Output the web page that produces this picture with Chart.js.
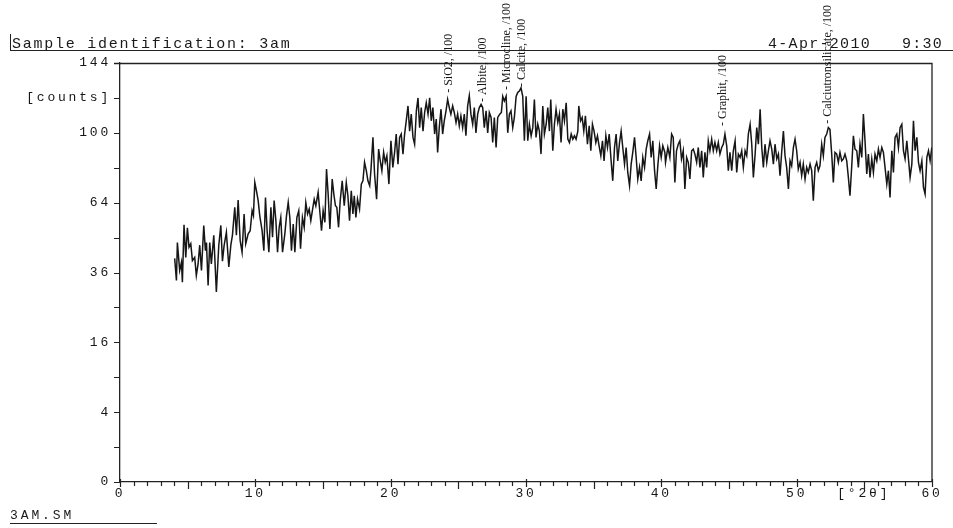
<!DOCTYPE html>
<html>
<head>
<meta charset="utf-8">
<title>3AM.SM</title>
<script src="https://cdn.jsdelivr.net/npm/chart.js@4.4.1/dist/chart.umd.min.js"></script>
<style>
  html, body { margin: 0; padding: 0; background: #ffffff; }
  #wrap { position: relative; width: 953px; height: 528px; overflow: hidden; background: #ffffff; }
  #xrd { position: absolute; left: 0; top: 0; }
  .plotter { position: absolute; font-family: "Liberation Mono", "DejaVu Sans Mono", monospace; color: #1a1a1a; white-space: pre; line-height: 1; }
  #headRule { position: absolute; left: 10px; top: 34px; width: 943px; height: 16px; border-left: 1.3px solid #222; border-bottom: 1.3px solid #222; }
  #sampleId { left: 12px; top: 37px; font-size: 15px; letter-spacing: 1.75px; }
  #stamp { left: 768px; top: 37px; font-size: 15px; letter-spacing: 1.3px; }
  #fileName { left: 10px; top: 509px; font-size: 13px; letter-spacing: 2.9px; width: 147px; border-bottom: 1.2px solid #222; padding-bottom: 1px; }
</style>
</head>
<body>
<div id="wrap">
  <canvas id="xrd" width="953" height="528"></canvas>
  <div id="headRule"></div>
  <div class="plotter" id="sampleId">Sample identification: 3am</div>
  <div class="plotter" id="stamp">4-Apr-2010   9:30</div>
  <div class="plotter" id="fileName">3AM.SM</div>
</div>
<script>
// Diffraction scan: position in degrees 2-theta and intensity in counts
const angle = [
  4.04, 4.17, 4.24, 4.41, 4.54, 4.61, 4.73, 4.86, 4.98, 5.10, 5.23, 5.35, 5.52, 5.64, 5.77, 5.89,
  6.02, 6.19, 6.31, 6.39, 6.51, 6.63, 6.75, 6.93, 7.12, 7.30, 7.45, 7.57, 7.69, 7.86, 8.04, 8.19,
  8.31, 8.48, 8.60, 8.73, 8.88, 9.02, 9.17, 9.29, 9.47, 9.62, 9.76, 9.86, 9.96, 10.08, 10.21, 10.33,
  10.50, 10.63, 10.75, 10.87, 11.00, 11.15, 11.27, 11.39, 11.52, 11.64, 11.76, 11.88, 12.01, 12.18, 12.30, 12.43,
  12.55, 12.67, 12.80, 12.92, 13.07, 13.21, 13.34, 13.48, 13.61, 13.73, 13.86, 13.98, 14.10, 14.23, 14.35, 14.47,
  14.64, 14.77, 14.89, 15.01, 15.14, 15.26, 15.38, 15.51, 15.68, 15.80, 15.92, 16.02, 16.15, 16.27, 16.42, 16.57,
  16.72, 16.84, 16.96, 17.09, 17.21, 17.31, 17.43, 17.55, 17.70, 17.83, 17.95, 18.07, 18.20, 18.32, 18.45, 18.54,
  18.69, 18.81, 18.96, 19.11, 19.23, 19.35, 19.48, 19.60, 19.72, 19.87, 20.02, 20.16, 20.29, 20.41, 20.54, 20.66,
  20.78, 20.91, 21.03, 21.15, 21.28, 21.40, 21.52, 21.65, 21.77, 21.90, 22.02, 22.14, 22.26, 22.39, 22.51, 22.63,
  22.76, 22.88, 23.00, 23.12, 23.25, 23.37, 23.47, 23.59, 23.72, 23.84, 23.96, 24.09, 24.21, 24.33, 24.45, 24.58,
  24.70, 24.83, 24.95, 25.07, 25.19, 25.32, 25.44, 25.56, 25.69, 25.81, 25.93, 26.06, 26.18, 26.30, 26.43, 26.55,
  26.68, 26.80, 26.92, 27.05, 27.17, 27.29, 27.42, 27.54, 27.66, 27.79, 27.91, 28.06, 28.18, 28.28, 28.40, 28.53,
  28.65, 28.77, 28.89, 29.02, 29.14, 29.27, 29.39, 29.51, 29.63, 29.76, 29.88, 30.01, 30.13, 30.25, 30.38, 30.50,
  30.62, 30.74, 30.87, 30.99, 31.11, 31.24, 31.36, 31.49, 31.61, 31.73, 31.83, 31.98, 32.10, 32.22, 32.35, 32.47,
  32.59, 32.72, 32.84, 32.97, 33.09, 33.21, 33.34, 33.46, 33.58, 33.70, 33.83, 33.90, 34.03, 34.15, 34.27, 34.39,
  34.54, 34.67, 34.79, 34.91, 35.03, 35.16, 35.28, 35.40, 35.53, 35.65, 35.77, 35.90, 36.02, 36.15, 36.27, 36.41,
  36.54, 36.66, 36.78, 36.91, 37.03, 37.15, 37.28, 37.40, 37.52, 37.65, 37.77, 37.89, 38.02, 38.14, 38.26, 38.39,
  38.51, 38.63, 38.76, 38.88, 39.00, 39.13, 39.25, 39.37, 39.50, 39.62, 39.74, 39.87, 39.99, 40.11, 40.26, 40.31,
  40.48, 40.63, 40.76, 40.88, 41.00, 41.12, 41.25, 41.37, 41.49, 41.62, 41.74, 41.87, 41.99, 42.11, 42.24, 42.36,
  42.48, 42.61, 42.73, 42.85, 42.98, 43.10, 43.22, 43.35, 43.47, 43.59, 43.72, 43.84, 43.96, 44.09, 44.21, 44.33,
  44.46, 44.58, 44.70, 44.83, 44.95, 45.07, 45.20, 45.32, 45.45, 45.57, 45.69, 45.82, 45.94, 46.06, 46.19, 46.31,
  46.43, 46.56, 46.68, 46.80, 46.93, 47.05, 47.17, 47.30, 47.42, 47.54, 47.66, 47.79, 47.91, 48.03, 48.16, 48.28,
  48.40, 48.53, 48.65, 48.77, 48.90, 49.02, 49.14, 49.26, 49.39, 49.51, 49.63, 49.76, 49.88, 50.00, 50.12, 50.25,
  50.37, 50.49, 50.62, 50.74, 50.86, 50.99, 51.11, 51.23, 51.36, 51.48, 51.60, 51.72, 51.85, 51.97, 52.09, 52.22,
  52.34, 52.46, 52.59, 52.71, 52.83, 52.96, 53.08, 53.20, 53.33, 53.45, 53.57, 53.70, 53.82, 53.94, 54.07, 54.19,
  54.31, 54.44, 54.56, 54.68, 54.81, 54.93, 55.05, 55.18, 55.30, 55.42, 55.55, 55.67, 55.79, 55.92, 56.04, 56.16,
  56.29, 56.41, 56.53, 56.66, 56.78, 56.90, 57.03, 57.15, 57.27, 57.40, 57.52, 57.64, 57.77, 57.89, 58.01, 58.14,
  58.26, 58.38, 58.51, 58.63, 58.75, 58.88, 59.00, 59.12, 59.25, 59.37, 59.49, 59.62, 59.74, 59.86, 59.99
];

const counts = [
  41, 33.3, 47, 36.7, 39.6, 32.7, 54.3, 41.4, 53, 45.2, 46.6, 40.2, 41.4, 35, 39, 46,
  36.7, 53.9, 43.9, 47, 31.7, 47, 39, 49.9, 29.6, 46, 54, 40, 45.7, 51.1, 37.9, 46,
  50, 61.9, 50, 65.2, 47.8, 43.3, 58.9, 46.6, 50.5, 51.8, 60.4, 58.2, 73.6, 69.6, 64.9, 58,
  51.8, 43.9, 66.4, 51.8, 43.3, 61.9, 49.1, 65, 56, 43.3, 53.2, 57.4, 43.3, 50.5, 58, 64.1,
  57.4, 43.9, 54.6, 43.3, 57.4, 60.4, 44.6, 57.4, 53.2, 64, 58.9, 61.1, 56, 61, 65.6, 62.6,
  68.8, 59.7, 51.8, 60.4, 55.3, 80.3, 68, 52.5, 75.3, 68, 62.6, 61.9, 53.2, 64.9, 74.4, 62.6,
  73.6, 67.2, 56, 69.6, 58.9, 67.2, 57.4, 65.6, 61.1, 72.8, 74.4, 83.8, 79.5, 74.4, 72, 79.5,
  97.4, 77.8, 65.6, 90.9, 84.6, 79.5, 89.1, 83.8, 87.3, 72.8, 95.5, 81.2, 89.1, 99.3, 82.9, 97.4,
  99.3, 88.2, 99.3, 107, 116, 101, 111, 97.4, 93.6, 113, 121, 103, 115, 101, 112, 118,
  111, 121, 107, 115, 99.3, 108, 89.1, 103, 114, 99.3, 107, 113, 120, 115, 111, 116,
  112, 106, 111, 104, 110, 103, 111, 98.3, 116, 122.4, 111, 105, 115, 100, 111, 115,
  117, 115, 103, 113, 100, 112, 109, 94.5, 109, 91.8, 109, 111, 112, 122, 119, 122,
  100, 111, 113, 103, 109, 122, 124.4, 125.4, 127.5, 122, 95.5, 122, 95.5, 105, 98.3, 103,
  120, 97.4, 105, 101, 88.2, 116, 99.3, 105, 115, 101, 120, 90, 105, 114, 106, 111,
  94.5, 114, 107, 118, 96.4, 94.5, 99.3, 96.4, 98.3, 96.4, 101, 116, 107, 109, 101, 110,
  93.6, 104, 90, 105, 101, 94.5, 98.3, 92.7, 87.3, 95.5, 84.6, 98.3, 91.8, 99.3, 86.4, 74.4,
  91.8, 99.3, 84.6, 94.5, 101, 91.8, 82.9, 91.8, 78.6, 72, 82.9, 89.1, 97.4, 86.4, 75.3, 81.2,
  74.4, 86.4, 81.2, 90.9, 95.5, 99.3, 86.4, 95.5, 79.5, 70.4, 82, 92.7, 86.4, 92.7, 89.1, 83.8,
  91.8, 86.4, 99.3, 97.4, 73.6, 90, 93.6, 95.5, 85.6, 90, 70.4, 86.4, 83.8, 75.3, 90, 90.9,
  88.2, 83.8, 91.8, 81.2, 90, 76.1, 89.1, 81.2, 95.5, 90, 96.4, 90, 94.5, 90, 94.5, 88.2,
  91.8, 93.6, 99.3, 92.7, 79.5, 89.1, 79.5, 90, 95.5, 78.6, 88.2, 86.4, 90, 81.2, 90, 87.3,
  99.3, 105, 93.6, 76.1, 88.2, 103, 93.6, 114, 91.8, 81.2, 93.6, 83.8, 90, 95.5, 90.9, 82.9,
  93.6, 85.6, 88.2, 77, 90, 101, 87.3, 81.2, 70.4, 84.6, 82, 91.8, 96.4, 90, 80.3, 83.8,
  77, 82.9, 75.3, 81.2, 78.6, 82.9, 79.5, 64.9, 81.2, 83.8, 79.5, 82, 93.6, 87.3, 97.4, 99.3,
  103, 102, 88.2, 73.6, 89.1, 88.2, 83.8, 89.1, 84.6, 85.6, 88.2, 84.6, 76.1, 67.2, 82, 98.3,
  90.9, 90, 81.2, 93.6, 86.4, 111, 95.5, 77.8, 88.2, 76.1, 85.6, 78.6, 88.2, 84.6, 90.9, 86.4,
  91.8, 89.1, 81.2, 72.8, 79.5, 66.4, 90, 78.6, 97.4, 99.3, 91.8, 103, 105, 90, 85.6, 95.5,
  85.6, 76.1, 82.9, 107, 90, 97.4, 83.8, 79.5, 84.6, 71.2, 68, 86.4, 90, 84.6, 91.8
];

// Phase identification markers: reference position (deg 2-theta) and label height (counts)
const phaseNames  = ['SiO2', 'Albite', 'Microcline', 'Calcite', 'Graphit', 'Calciutronsilicate'];
const phaseAngle  = [24.33, 26.78, 28.55, 29.66, 44.53, 52.29];
const phaseHeight = [124.2, 118.5, 126.1, 128.0, 104.0, 105.2];
const phaseScale  = '/100';

// Axis ticks
const xTickValues = [0, 10, 20, 30, 40, 50, 60];
const xMinorStep = 1;
const yTickValues = [0, 1, 4, 9, 16, 25, 36, 49, 64, 81, 100, 121, 144];
const yTickLabels = ['0', '', '4', '', '16', '', '36', '', '64', '', '100', '[counts]', '144'];
const xUnitLabel = '[°2θ]';
const xUnitAt = 53.0;

// Square-root intensity axis
class SqrtScale extends Chart.LinearScale {
  static id = 'sqrt';
  static defaults = {};
  buildTicks() {
    return yTickValues.map(v => ({ value: v }));
  }
  configure() {
    super.configure();
    this._sMin = Math.sqrt(Math.max(this.min, 0));
    this._sMax = Math.sqrt(Math.max(this.max, 0));
  }
  getPixelForValue(value) {
    const s = Math.sqrt(Math.max(value, 0));
    return this.getPixelForDecimal((s - this._sMin) / (this._sMax - this._sMin));
  }
  getValueForPixel(pixel) {
    const s = this._sMin + this.getDecimalForPixel(pixel) * (this._sMax - this._sMin);
    return s * s;
  }
}
Chart.register(SqrtScale);

const INK = '#161616';
const MONO = '"Liberation Mono", "DejaVu Sans Mono", monospace';

// Plotter-style frame, tick marks, unit label and phase markers
const plotterDecor = {
  id: 'plotterDecor',
  beforeDraw(chart) {
    chart.ctx.letterSpacing = '2.8px';
  },
  afterDraw(chart) {
    const ctx = chart.ctx;
    const { left, right, top, bottom } = chart.chartArea;
    const xs = chart.scales.x, ys = chart.scales.y;
    ctx.save();
    ctx.letterSpacing = '0px';
    ctx.strokeStyle = '#222';
    ctx.lineWidth = 1.3;
    ctx.beginPath();
    ctx.moveTo(left - 6, top + 0.5);
    ctx.lineTo(right, top + 0.5);
    ctx.lineTo(right, bottom);
    ctx.stroke();

    // y tick marks
    ctx.lineWidth = 1.2;
    ctx.beginPath();
    yTickValues.forEach(v => {
      const py = Math.round(ys.getPixelForValue(v)) + 0.5;
      ctx.moveTo(left - 6, py);
      ctx.lineTo(left, py);
    });
    // x tick marks
    for (let v = xs.min; v <= xs.max; v += xMinorStep) {
      const px = Math.round(xs.getPixelForValue(v)) + 0.5;
      let up = 0, down = 4;
      if (v % 10 === 0) { up = 3; down = 5; }
      else if (v % 5 === 0) { down = 7; }
      ctx.moveTo(px, bottom - up);
      ctx.lineTo(px, bottom + down);
    }
    ctx.stroke();

    // axis unit label
    ctx.fillStyle = INK;
    ctx.letterSpacing = '2.8px';
    ctx.font = '13px ' + MONO;
    ctx.textAlign = 'left';
    ctx.textBaseline = 'middle';
    ctx.fillText(xUnitLabel, xs.getPixelForValue(xUnitAt), bottom + 12);

    // phase markers
    ctx.letterSpacing = '0px';
    ctx.font = '12px "Liberation Serif", "DejaVu Serif", serif';
    phaseNames.forEach((name, i) => {
      const px = xs.getPixelForValue(phaseAngle[i]);
      const py = ys.getPixelForValue(phaseHeight[i]);
      ctx.save();
      ctx.translate(px, py);
      ctx.rotate(-Math.PI / 2);
      ctx.textAlign = 'left';
      ctx.textBaseline = 'middle';
      ctx.fillText('- ' + name + ', ' + phaseScale, 0, 0);
      ctx.restore();
    });
    ctx.restore();
  }
};

new Chart(document.getElementById('xrd').getContext('2d'), {
  type: 'line',
  data: {
    datasets: [{
      label: '3am',
      data: angle.map((a, i) => ({ x: a, y: counts[i] })),
      borderColor: INK,
      borderWidth: 1.5,
      pointRadius: 0,
      tension: 0,
      fill: false
    }]
  },
  options: {
    responsive: false,
    animation: false,
    devicePixelRatio: 1,
    layout: { padding: { left: 0, right: 21, top: 63, bottom: 0 } },
    plugins: { legend: { display: false }, tooltip: { enabled: false }, title: { display: false } },
    scales: {
      x: {
        type: 'linear',
        min: 0,
        max: 60,
        afterFit(scale) { scale.height = 46; },
        afterBuildTicks(scale) { scale.ticks = xTickValues.map(v => ({ value: v })); },
        grid: { display: false, drawTicks: false },
        border: { display: true, color: '#222', width: 1.3 },
        ticks: {
          autoSkip: false,
          maxRotation: 0,
          padding: 4,
          color: INK,
          font: { family: MONO, size: 13 },
          callback: (v) => String(v)
        }
      },
      y: {
        type: 'sqrt',
        min: 0,
        max: 144,
        afterFit(scale) { scale.width = 120; },
        grid: { display: false, drawTicks: false },
        border: { display: true, color: '#222', width: 1.3 },
        ticks: {
          autoSkip: false,
          padding: 9,
          color: INK,
          font: { family: MONO, size: 13 },
          callback: (v, i) => yTickLabels[i]
        }
      }
    }
  },
  plugins: [plotterDecor]
});
</script>
</body>
</html>
